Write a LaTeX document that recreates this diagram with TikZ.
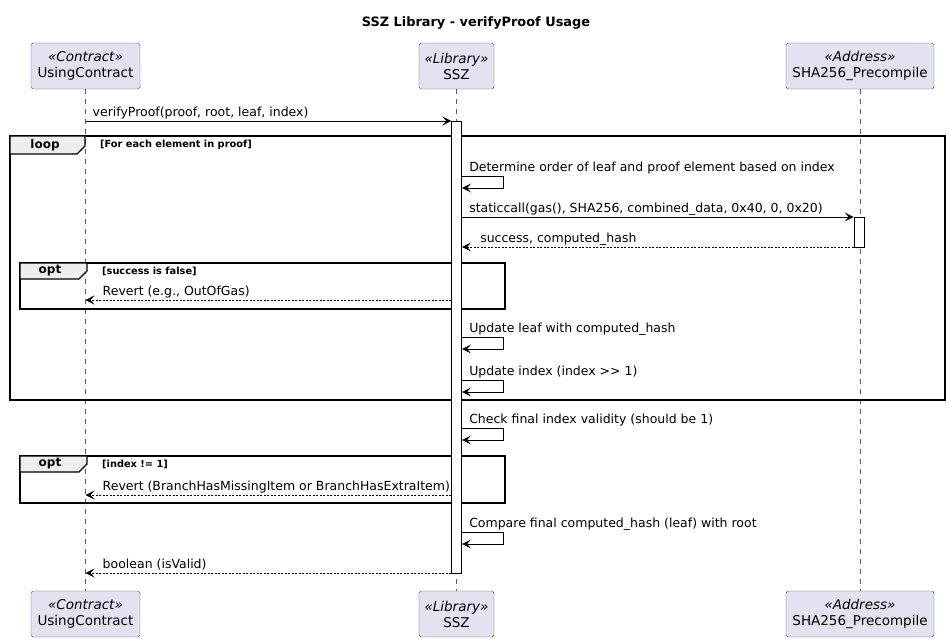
\documentclass[tikz,border=0pt]{standalone}
\usepackage{fontspec}
\setmainfont{DejaVu Sans}
\usetikzlibrary{arrows.meta,calc,positioning}

\definecolor{partfill}{HTML}{E2E2F0}
\definecolor{partline}{HTML}{5A5A5A}
\definecolor{tabfill}{HTML}{EEEEEE}

\tikzset{
  party/.style={draw=partline, fill=partfill, rounded corners=2.5pt, minimum width=#1,
    minimum height=46pt, align=center, inner sep=1pt, font=\fontsize{13.5}{16}\selectfont},
  lifeline/.style={draw=partline, line width=0.5pt, dash pattern=on 5pt off 5pt},
  actbar/.style={draw=black, fill=white, line width=0.7pt, minimum width=10pt, inner sep=0pt, anchor=north},
  msg/.style={line width=0.7pt, -{Stealth[length=9pt,width=9pt,inset=4pt]}},
  reply/.style={msg, dash pattern=on 2pt off 1.5pt},
  msglabel/.style={font=\fontsize{12.5}{14}\selectfont, anchor=base west, inner sep=0pt},
  frame/.style={draw=black, line width=1.3pt},
  tabtext/.style={font=\bfseries\fontsize{12}{14}\selectfont},
  guard/.style={font=\bfseries\fontsize{9.8}{12}\selectfont, anchor=west, inner sep=0pt}
}

\begin{document}
\begin{tikzpicture}[x=1pt,y=-1pt]
    \useasboundingbox (0,0) rectangle (949,642);

    % Title
    \node[font=\bfseries\fontsize{12.9}{15}\selectfont] (title) at (476,23) {SSZ Library - verifyProof Usage};

    % Participants
    \node[party=109pt] (ucTop) at (85.5,66) {{\itshape «Contract»}\\UsingContract};
    \node[party=75pt]  (ssTop) at (456.5,66) {{\itshape «Library»}\\SSZ};
    \node[party=148pt] (shTop) at (860,66) {{\itshape «Address»}\\SHA256\_Precompile};
    \node[party=109pt] (ucBot) at (85.5,614) {{\itshape «Contract»}\\UsingContract};
    \node[party=75pt]  (ssBot) at (456.5,614) {{\itshape «Library»}\\SSZ};
    \node[party=148pt] (shBot) at (860,614) {{\itshape «Address»}\\SHA256\_Precompile};

    % Lifelines
    \draw[lifeline] (ucTop) -- (ucBot);
    \draw[lifeline] (ssTop) -- (ssBot);
    \draw[lifeline] (shTop) -- (shBot);

    % Frames
    \draw[frame] (10,136) rectangle (945,400);
    \draw[frame, fill=tabfill] (10,136) -- (85,136) -- (85,146) -- (77,154) -- (10,154) -- cycle;
    \node[tabtext] (loopTab) at (45,145) {loop};
    \node[guard] (loopGuard) at (100,145) {[For each element in proof]};

    \draw[frame] (20,263) rectangle (505,309);
    \draw[frame, fill=tabfill] (20,263) -- (87,263) -- (87,271) -- (79,279) -- (20,279) -- cycle;
    \node[tabtext] (optTabA) at (50,271) {opt};
    \node[guard] (optGuardA) at (102,271) {[success is false]};

    \draw[frame] (20,456) rectangle (505,503);
    \draw[frame, fill=tabfill] (20,456) -- (87,456) -- (87,464) -- (79,472) -- (20,472) -- cycle;
    \node[tabtext] (optTabB) at (50,464) {opt};
    \node[guard] (optGuardB) at (102,464) {[index != 1]};

    % Activations
    \node[actbar, minimum height=452pt] (ssAct) at (456.7,121) {};
    \node[actbar, minimum height=30pt] (shAct) at (859,217) {};

    % Calls
    \draw[msg] (ucTop |- 0,121) -- (ssAct.west |- 0,121);
    \node[msglabel] at ($(ucTop |- 0,121)+(7,-5)$) {verifyProof(proof, root, leaf, index)};

    \draw[msg] (ssAct.east |- 0,217) -- (shAct.west |- 0,217);
    \node[msglabel] at ($(ssAct.east |- 0,217)+(7,-5)$) {staticcall(gas(), SHA256, combined\_data, 0x40, 0, 0x20)};

    % Replies
    \draw[reply] (shAct.west |- 0,247) -- (ssAct.east |- 0,247);
    \node[msglabel] at ($(ssAct.east |- 0,247)+(18,-5)$) {success, computed\_hash};

    \draw[reply] (ssAct.west |- 0,300) -- (ucTop |- 0,300);
    \node[msglabel] at ($(ucTop |- 0,300)+(17,-5)$) {Revert (e.g., OutOfGas)};

    \draw[reply] (ssAct.west |- 0,495) -- (ucTop |- 0,495);
    \node[msglabel] at ($(ucTop |- 0,495)+(17,-5)$) {Revert (BranchHasMissingItem or BranchHasExtraItem)};

    \draw[reply] (ssAct.west |- 0,573) -- (ucTop |- 0,573);
    \node[msglabel] at ($(ucTop |- 0,573)+(17,-5)$) {boolean (isValid)};

    % Self calls on SSZ
    \foreach \ya/\txt in {176/{Determine order of leaf and proof element based on index},
                          337/{Update leaf with computed\_hash},
                          380/{Update index (index >\kern0pt> 1)},
                          428/{Check final index validity (should be 1)},
                          532/{Compare final computed\_hash (leaf) with root}} {
        \draw[msg] (ssAct.east |- 0,\ya) -- ++(41,0) |- (ssAct.east |- 0,\ya+12);
        \node[msglabel] at ($(ssAct.east |- 0,\ya)+(7,-5)$) {\txt};
    }

\end{tikzpicture}
\end{document}
